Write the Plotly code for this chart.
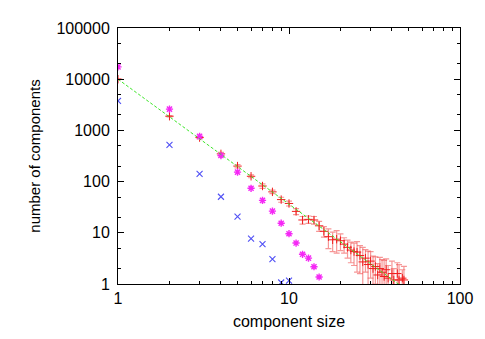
import plotly.graph_objects as go

# measured component-size distribution (mean with error bars)
red_x = [1, 2, 3, 4, 5, 6, 7, 8, 9, 10, 11, 12, 13, 14, 15, 16, 17, 18, 19, 20,
         21, 22, 23, 24, 25, 26, 27, 28, 29, 30, 31, 32, 33, 34, 35, 36, 37, 38,
         40, 41, 43, 44, 46, 47]
red_y = [10000, 1893, 724, 348, 201, 127, 82, 63, 44.5, 37.4, 26.2, 17.8, 18.3, 17.8,
         13.7, 10.7, 8.4, 7.3, 7.5, 7.0, 6.0, 5.2, 4.6, 4.3, 4.2, 3.6, 2.7, 3.2, 2.4,
         2.8, 2.0, 2.2, 1.5, 2.0, 1.7, 1.4, 1.9, 1.3, 1.6, 1.2, 1.6, 1.2, 1.3, 1.2]
red_err = [150, 60, 40, 25, 15, 8, 8, 5, 5, 4, 3.5, 3, 3, 3, 3, 2.5, 3.5, 3, 3.5, 2.5,
           2, 2, 2, 2, 2.5, 2, 2.5, 1.5, 2, 1.5, 1.5, 1.2, 1, 1.3, 1.3, 1.5, 1.2, 1,
           1.2, 0.8, 1, 1.2, 0.6, 1]

mag_x = [1, 2, 3, 4, 5, 6, 7, 8, 9, 10, 11, 12, 13, 14, 15]
mag_y = [17400, 2600, 765, 323, 153, 74, 43, 26.5, 15.4, 9.6, 6.3, 3.8, 3.2, 2.17, 1.37]

blue_x = [1, 2, 3, 4, 5, 6, 7, 8, 9, 10]
blue_y = [3776, 519, 142, 50.6, 20.8, 7.7, 6.0, 3.07, 1.07, 1.16]

# power-law fit  y = fit_a * x ** fit_b
fit_a = 10000
fit_b = -2.44
fit_x = [1, 100]
fit_y = [fit_a * v ** fit_b for v in fit_x]

RED = "rgb(240,30,30)"
MAG = "rgb(245,40,245)"
BLUE = "rgb(80,80,245)"

fig = go.Figure()
fig.add_trace(go.Scatter(
    x=red_x, y=red_y, mode="markers",
    marker=dict(symbol="cross-thin", size=6, color=RED, line=dict(color=RED, width=1)),
    error_y=dict(type="data", array=red_err, visible=True,
                 color="rgba(240,80,80,0.6)", thickness=1.2, width=3),
    showlegend=False))
fig.add_trace(go.Scatter(
    x=mag_x, y=mag_y, mode="markers",
    marker=dict(symbol="asterisk-open", size=6, color=MAG,
                line=dict(color=MAG, width=1.4)),
    showlegend=False))
fig.add_trace(go.Scatter(
    x=blue_x, y=blue_y, mode="markers",
    marker=dict(symbol="x-thin-open", size=6, color=BLUE,
                line=dict(color=BLUE, width=1.1)),
    showlegend=False))
fig.add_trace(go.Scatter(
    x=fit_x, y=fit_y, mode="lines",
    line=dict(color="rgb(60,230,40)", width=1, dash="3px,2px"), showlegend=False))

font = dict(family="Liberation Sans, Arial, sans-serif", size=16, color="black")
yfont = dict(family="Liberation Sans, Arial, sans-serif", size=15, color="black")

# page body has an 8px default margin; size/margins compensate for it
fig.update_layout(
    width=477, height=331,
    margin=dict(l=110, r=17, t=12, b=44),
    paper_bgcolor="white", plot_bgcolor="white",
    font=font,
    xaxis=dict(type="log", range=[0, 2], showgrid=False, zeroline=False,
               showline=True, linecolor="black", linewidth=1, mirror="ticks",
               ticks="inside", ticklen=6, tickcolor="black",
               tickvals=[1, 10, 100], ticktext=["1", "10", "100"],
               minor=dict(ticks="inside", ticklen=3, tickcolor="black", dtick="D1", showgrid=False),
               title=dict(text="component size", standoff=9, font=font),
               tickfont=font),
    yaxis=dict(type="log", range=[0, 5], showgrid=False, zeroline=False,
               showline=True, linecolor="black", linewidth=1, mirror="ticks",
               ticks="inside", ticklen=6, tickcolor="black",
               tickvals=[1, 10, 100, 1000, 10000, 100000],
               ticktext=["1", "10", "100", "1000", "10000", "100000"],
               ticklabelstandoff=4,
               minor=dict(ticks="inside", ticklen=3, tickcolor="black", dtick="D2", showgrid=False),
               title=dict(text="number of components", standoff=12, font=yfont),
               tickfont=font),
)

fig.write_html("out.html")
